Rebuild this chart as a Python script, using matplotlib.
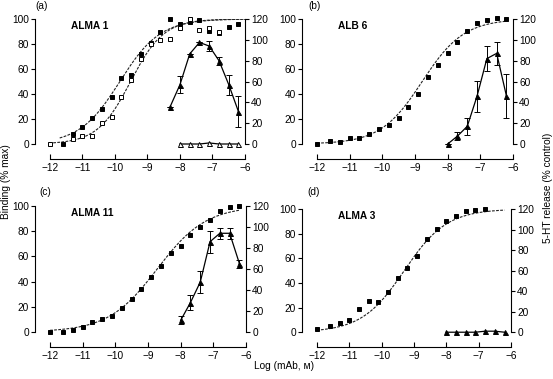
import numpy as np
import matplotlib
matplotlib.use("Agg")
import matplotlib.pyplot as plt

plt.rcParams['font.family'] = ['Liberation Sans', 'DejaVu Sans']
plt.rcParams['font.size'] = 7.3

# log concentrations
conc = [-12, -11.6, -11.3, -11.0, -10.7, -10.4, -10.1, -9.8, -9.5, -9.2,
        -8.9, -8.6, -8.3, -8.0, -7.7, -7.4, -7.1, -6.8, -6.5, -6.2]
rel_conc = [-8.0, -7.7, -7.4, -7.1, -6.8, -6.5, -6.2]
rel_conc_a = [-8.3, -8.0, -7.7, -7.4, -7.1, -6.8, -6.5, -6.2]

# (a) ALMA 1
a_bind = [None, 0, 8, 14, 21, 28, 38, 53, 55, 72, 81, 90, 100, 96, 97.5, 99, 90.5, 89, 94, 96]
a_bind_open = [0, None, 4, 6.5, 6.5, 17, 22, 38, 51, 68, 80, 83, 84, 93, 100, 91, 93, 89.5, None, None]
a_rel = [36, 57, 86.5, 97.5, 94, 80, 57, 31]
a_rel_err = [0, 8, 0, 0, 4.5, 4, 9.5, 14.7]
a_rel_open = [0, 0, 0, 1, 0, 0, 0]

# (b) ALB 6
b_bind = [0, 2.7, 1.6, 5, 5, 7.7, 12, 15, 21, 30, 40, 54, 63, 73, 82, 90.5, 96.5, 99, 100.5, 100]
b_rel = [0, 7.6, 17, 46, 82, 87, 46]
b_rel_err = [0, 3.8, 8, 14.8, 12, 11, 21]

# (c) ALMA 11
c_bind = [0, 0, 1.6, 4, 8, 10.6, 13, 19, 26, 34.4, 44, 52, 63, 68, 77, 83, 89, 96, 99, 100]
c_rel = [11, 28, 47.5, 86, 94, 94, 65]
c_rel_err = [3.8, 6.7, 10.5, 10.5, 5.4, 5.4, 4]

# (d) ALMA 3
d_bind = [3, 4.9, 7.3, 9.8, 19, 25.3, 24.5, 33, 44, 52.4, 62, 75.5, 83.4, 90.5, 94.3, 98.4, 99, 100, None, None]
d_rel = [0, 0, 0, 0, 1, 1, 0]

# fitted sigmoid parameters: (logEC50, Hill slope, x start, x end)
fit_a = (-9.85, 0.7, -11.7, -6.0)
fit_a_open = (-9.52, 0.85, -11.9, -6.0)
fit_b = (-8.78, 0.68, -12.0, -6.2)
fit_c = (-8.72, 0.58, -12.0, -6.2)
fit_d = (-9.3, 0.66, -12.0, -6.2)


def sigmoid_curve(fit):
    ec50, hill, x0, x1 = fit
    x = np.linspace(x0, x1, 200)
    return x, 100 / (1 + 10 ** ((ec50 - x) * hill))


def pts(xs, ys):
    pairs = [(x, y) for x, y in zip(xs, ys) if y is not None]
    return [p[0] for p in pairs], [p[1] for p in pairs]


def setup(ax):
    ax.set_xlim(-12.46, -6)
    ax.set_ylim(-12, 100)
    ax.spines['top'].set_visible(False)
    ax.spines['right'].set_visible(False)
    ax.spines['left'].set_bounds(0, 100)
    ax.spines['bottom'].set_bounds(-12, -6)
    for s in ax.spines.values():
        s.set_linewidth(0.8)
    ax.set_yticks(range(0, 101, 20))
    ax.set_xticks(range(-12, -5))
    ax.tick_params(axis='y', direction='out', length=3, width=0.8, pad=1.5)
    ax.tick_params(axis='x', direction='in', length=3.5, width=0.8, pad=3)
    ax2 = ax.twinx()
    ax2.set_ylim(-14.4, 120)
    ax2.spines['top'].set_visible(False)
    ax2.spines['left'].set_visible(False)
    ax2.spines['bottom'].set_visible(False)
    ax2.spines['right'].set_bounds(0, 120)
    ax2.spines['right'].set_linewidth(0.8)
    ax2.set_yticks(range(0, 121, 20))
    ax2.tick_params(axis='y', direction='out', length=3, width=0.8, pad=1.5)
    return ax2


def binding(ax, ys, fit, filled=True, z=4):
    x, y = sigmoid_curve(fit)
    ax.plot(x, y, color='#222222', lw=0.8, dashes=(2.5, 1.2))
    px, py = pts(conc, ys)
    ax.plot(px, py, ls='none', marker='s', ms=3.4, mec='black', mew=0.7,
            mfc='black' if filled else 'white', clip_on=False, zorder=z)


def release(ax2, xs, ys, err=None, filled=True):
    ax2.errorbar(xs, ys, yerr=err, color='black', lw=0.9, marker='^', ms=3.6,
                 mec='black', mew=0.7, mfc='black' if filled else 'white',
                 capsize=2, elinewidth=0.7, capthick=0.7, clip_on=False, zorder=4)


fig = plt.figure(figsize=(5.53, 3.79), dpi=100)
W, H = 553, 379


def make_ax(left, right, top, bottom):
    return fig.add_axes([left / W, 1 - bottom / H, (right - left) / W, (bottom - top) / H])


ax_a = make_ax(35, 245, 19, 159)
ax_b = make_ax(302, 513, 19, 159)
ax_c = make_ax(35, 246, 206, 347)
ax_d = make_ax(302, 511, 209, 347)

r_a = setup(ax_a)
binding(ax_a, a_bind, fit_a, z=4)
binding(ax_a, a_bind_open, fit_a_open, filled=False, z=5)
release(r_a, rel_conc_a, a_rel, a_rel_err)
release(r_a, rel_conc, a_rel_open, filled=False)

r_b = setup(ax_b)
binding(ax_b, b_bind, fit_b)
release(r_b, rel_conc, b_rel, b_rel_err)

r_c = setup(ax_c)
binding(ax_c, c_bind, fit_c)
release(r_c, rel_conc, c_rel, c_rel_err)

r_d = setup(ax_d)
binding(ax_d, d_bind, fit_d)
release(r_d, rel_conc, d_rel)

for ax, name in [(ax_a, 'ALMA 1'), (ax_b, 'ALB 6'), (ax_c, 'ALMA 11'), (ax_d, 'ALMA 3')]:
    ax.text(0.17, 0.95, name, transform=ax.transAxes, fontweight='bold',
            ha='left', va='center', fontsize=7.3)

fig.text(35 / W, 1 - 6 / H, '(a)', ha='left', va='center')
fig.text(308 / W, 1 - 6 / H, '(b)', ha='left', va='center')
fig.text(39 / W, 1 - 192 / H, '(c)', ha='left', va='center')
fig.text(307 / W, 1 - 192 / H, '(d)', ha='left', va='center')

fig.text(6 / W, 1 - 182 / H, 'Binding (% max)', rotation=90, ha='center', va='center')
fig.text(548 / W, 1 - 188 / H, '5-HT release (% control)', rotation=90, ha='center', va='center')
fig.text(284 / W, 1 - 366 / H, 'Log (mAb, ᴍ)', ha='center', va='center')

fig.savefig('out.png', dpi=100)
